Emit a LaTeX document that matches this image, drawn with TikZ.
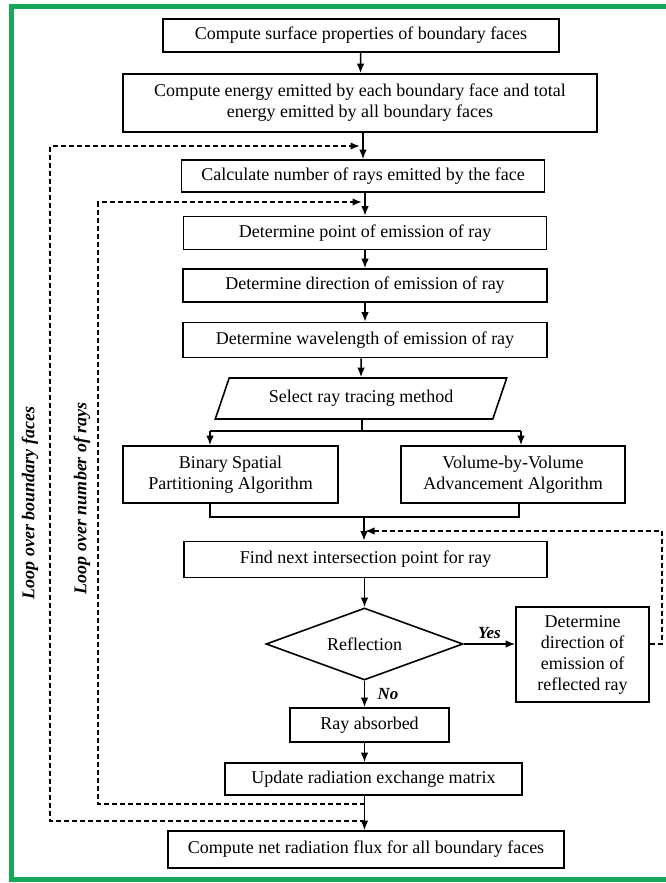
\documentclass[tikz,border=0pt]{standalone}
\usepackage{fontspec}
\setmainfont{Liberation Serif}
\usetikzlibrary{shapes.geometric,arrows.meta}
\definecolor{framegreen}{RGB}{22,168,88}

\tikzset{
  stepbox/.style={draw, line width=1.6pt, align=center, inner sep=2pt,
    font=\fontsize{18}{21}\selectfont},
  loopline/.style={dashed, dash pattern=on 5pt off 3pt, line width=1.7pt},
  flow/.style={->, line width=1.5pt},
  looplabel/.style={rotate=90, font=\fontsize{18}{21}\selectfont\bfseries\itshape}
}

\begin{document}
\begin{tikzpicture}[x=1pt,y=-1pt,>={Latex[length=9.5pt,width=7.5pt]}]
\useasboundingbox (0,0) rectangle (665,883);
% frame
\draw [framegreen, line width=5pt] (670,7) -- (11,7) -- (11,879) -- (670,879);

% main chain
\node [stepbox, minimum width=396pt, minimum height=33pt] (surf) at (361,35.5) {Compute surface properties of boundary faces};
\node [stepbox, minimum width=474pt, minimum height=58pt] (energy) at (360,103) {Compute energy emitted by each boundary face and total\\energy emitted by all boundary faces};
\node [stepbox, minimum width=363pt, minimum height=32pt] (nrays) at (363,176) {Calculate number of rays emitted by the face};
\node [stepbox, minimum width=363pt, minimum height=33pt] (point) at (365,233) {Determine point of emission of ray};
\node [stepbox, minimum width=364pt, minimum height=33pt] (direc) at (365,285.5) {Determine direction of emission of ray};
\node [stepbox, minimum width=364pt, minimum height=35pt] (wavel) at (365,340) {Determine wavelength of emission of ray};
\node [stepbox, trapezium, trapezium left angle=64, trapezium right angle=116, trapezium stretches=true,
       minimum width=292pt, minimum height=41pt] (select) at (361,398.5) {Select ray tracing method};
\node [stepbox, minimum width=215pt, minimum height=57pt] (bsp) at (230.5,474.5) {Binary Spatial\\Partitioning Algorithm};
\node [stepbox, minimum width=224pt, minimum height=57pt] (vvv) at (513,474.5) {Volume-by-Volume\\Advancement Algorithm};
\node [stepbox, minimum width=363pt, minimum height=36pt] (next) at (365.5,559.5) {Find next intersection point for ray};
\node [stepbox, diamond, aspect=2.7, inner sep=0pt, minimum width=197pt, minimum height=72pt] (refl) at (364.5,644) {Reflection};
\node [stepbox, minimum width=133pt, minimum height=95pt] (newdir) at (582.5,654.5) {Determine\\direction of\\emission of\\reflected ray};
\node [stepbox, minimum width=159pt, minimum height=34pt] (absorb) at (369.5,725) {Ray absorbed};
\node [stepbox, minimum width=297pt, minimum height=32pt] (update) at (373.5,779) {Update radiation exchange matrix};
\node [stepbox, minimum width=396pt, minimum height=37pt] (flux) at (366,849.5) {Compute net radiation flux for all boundary faces};

% branch points and loop corners
\coordinate (fork) at (362,431);
\coordinate (forkL) at (210,431);
\coordinate (forkR) at (521,431);
\coordinate (join) at (364,517);
\coordinate (joinL) at (210,517);
\coordinate (joinR) at (519,517);
\coordinate (rcorner) at (662,531);
\coordinate (ret) at (365,531);
\coordinate (itop) at (98,202);
\coordinate (ibot) at (98,804);
\coordinate (iend) at (362,202);
\coordinate (istart) at (364.5,804);
\coordinate (otop) at (50,146);
\coordinate (obot) at (50,821);
\coordinate (oend) at (360,146);
\coordinate (ostart) at (364.5,821);

\draw [flow] (surf) -- (energy);
\draw [flow] (energy.south -| nrays.north) -- (nrays);
\draw [flow] (nrays.south -| point.north) -- (point);
\draw [flow] (point) -- (direc);
\draw [flow] (direc) -- (wavel);
\draw [flow] (wavel.south -| select.north) -- (select);
\draw [line width=1.5pt] (select.south -| fork) -- (fork);
\draw [flow] (forkL) -- (forkR |- fork) (forkL) -- (forkL |- bsp.north);
\draw [flow] (forkR) -- (forkR |- vvv.north);
\draw [line width=1.5pt] (joinL |- bsp.south) -- (joinL) -- (joinR) -- (joinR |- vvv.south);
\draw [flow] (join) -- (join |- next.north);
\draw [flow] (next.south -| refl.north) -- (refl);
\draw [flow] (refl.east) -- (newdir.west |- refl.east) node [midway, above=1pt, font=\fontsize{17}{20}\selectfont\bfseries\itshape] {Yes};
\draw [flow] (refl.south) -- (refl.south |- absorb.north) node [midway, right=9pt, font=\fontsize{17}{20}\selectfont\bfseries\itshape] {No};
\draw [flow] (absorb.south -| refl.south) -- (update.north -| refl.south);
\draw [flow] (update.south -| istart) -- (flux.north -| istart);

% loops
\draw [loopline, ->] (newdir.east |- refl.east) -| (rcorner) -- (ret);
\draw [loopline, ->] (istart) -- (ibot) -- (itop) -- (iend);
\draw [loopline, ->] (ostart) -- (obot) -- (otop) -- (oend);

\node [looplabel] (faceloop) at (30,503) {Loop over boundary faces};
\node [looplabel] (rayloop) at (82,498) {Loop over number of rays};
\end{tikzpicture}
\end{document}
